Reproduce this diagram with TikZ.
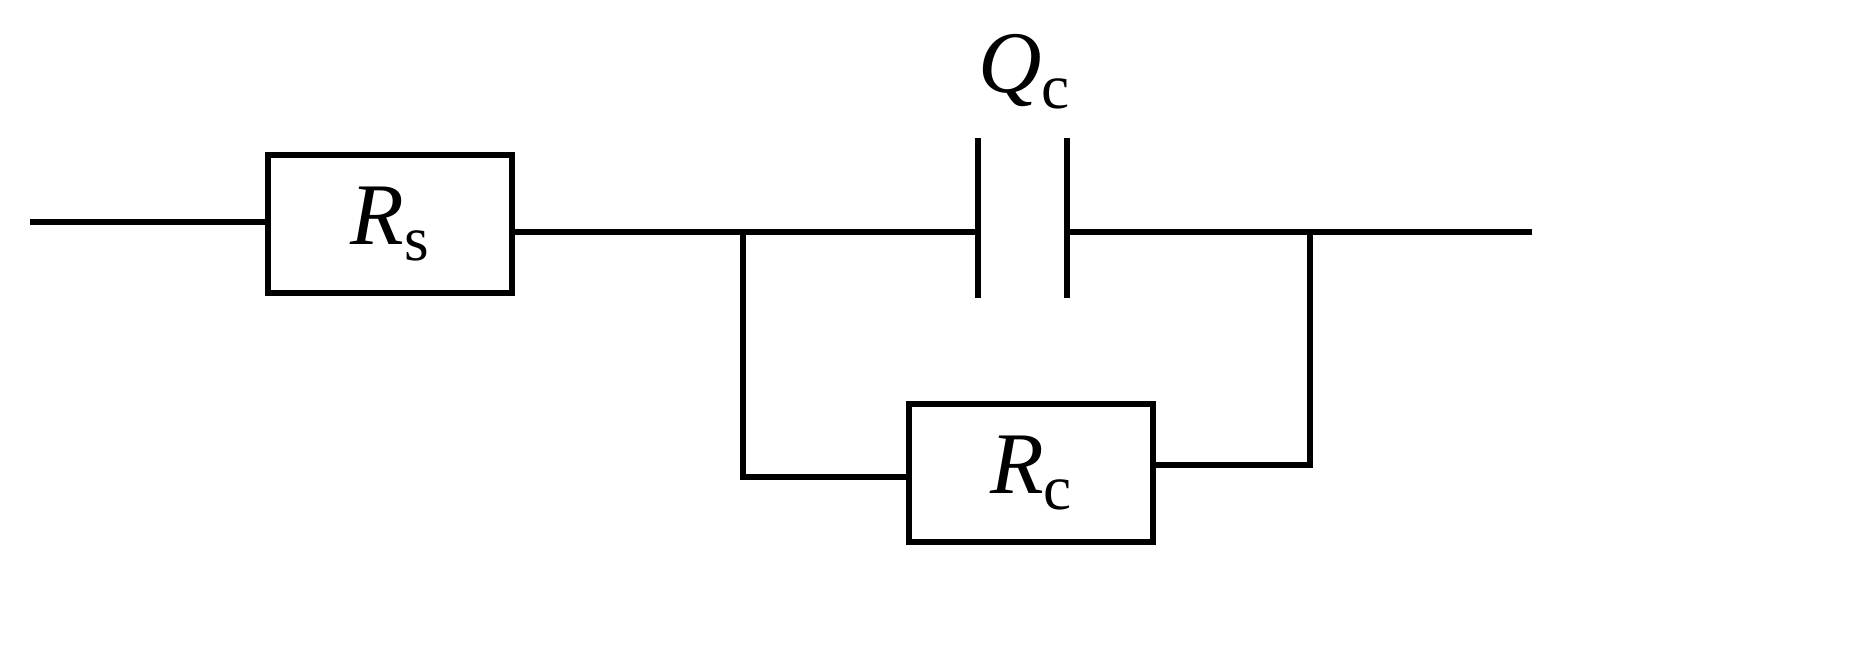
\documentclass[tikz,border=0pt]{standalone}
\usepackage{fontspec}
\setmainfont{Liberation Serif}
\newcommand{\lab}[2]{\textit{#1}\raisebox{-0.4ex}{\fontsize{36}{44}\selectfont #2}}
\begin{document}
\begin{tikzpicture}[x=0.02cm,y=-0.02cm,line width=2.9pt,
  box/.style={draw,line width=2.9pt,minimum width=4.88cm,minimum height=2.76cm,inner sep=0pt,font=\fontsize{50}{60}\selectfont},
  lbl/.style={font=\fontsize{50}{60}\selectfont}]
\useasboundingbox (0,0) rectangle (1856,659);
\node[box] (rs) at (390,224) {\lab{R}{s}};
\node[box] (rc) at (1031,473) {\lab{R}{c}};
\coordinate (in) at (30,222);
\coordinate (out) at (1532,232);
\coordinate (c1t) at (978,138); \coordinate (c1b) at (978,298);
\coordinate (c2t) at (1067,138); \coordinate (c2b) at (1067,298);
\coordinate (c1) at (978,232); \coordinate (c2) at (1067,232);
\coordinate (jl) at (743,232); \coordinate (jr) at (1310,232);
\node[lbl] (q) at (1024,72) {\lab{Q}{c}};
\draw (in) -- (rs.west|-in);
\draw (rs.east|-c1) -- (c1);
\draw (c1t) -- (c1b);
\draw (c2t) -- (c2b);
\draw (c2) -- (out);
\draw (jl) -- (743,477) -- (rc.west|-0,477);
\draw (rc.east|-0,465) -- (1310,465) -- (jr);
\end{tikzpicture}
\end{document}
